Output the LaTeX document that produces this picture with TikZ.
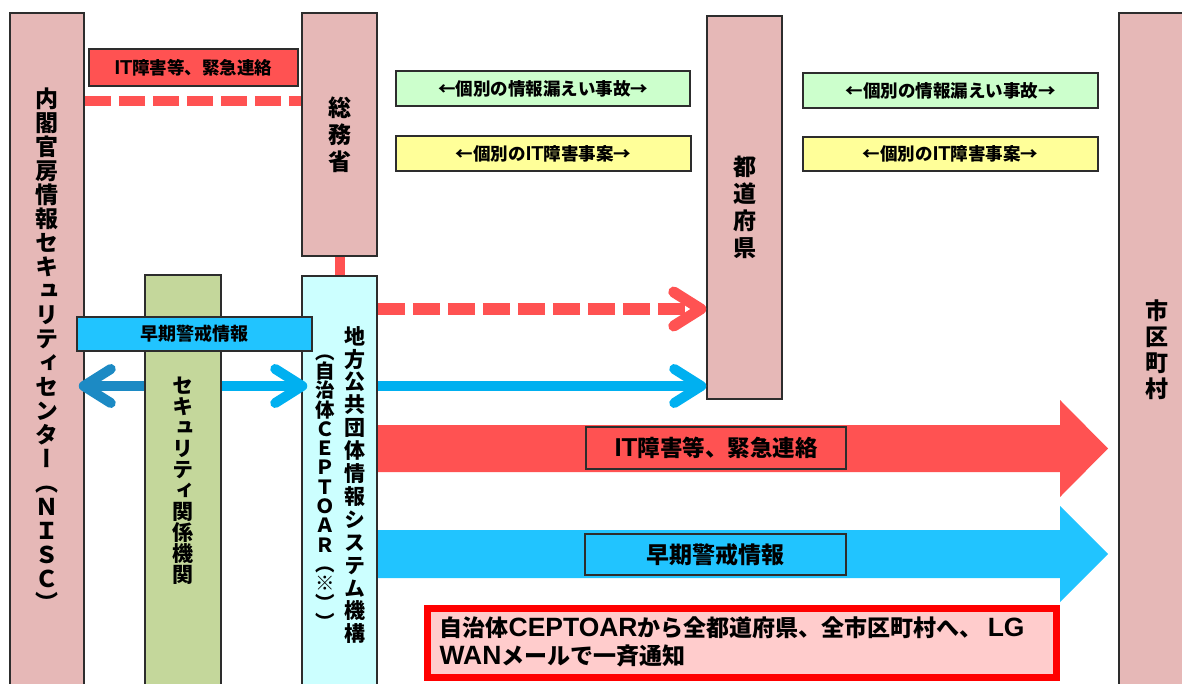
\documentclass[tikz,border=0pt]{standalone}
\usepackage{fontspec}
\setmainfont{Noto Sans CJK JP}
\newfontfamily\vjp{Noto Sans CJK JP}[RawFeature=+vert]
\newfontfamily\latfont{Liberation Sans}[Scale=1.15]
\usetikzlibrary{arrows.meta}
\definecolor{edge}{RGB}{45, 45, 45}
\definecolor{boxpink}{RGB}{230, 184, 183}
\definecolor{boxolive}{RGB}{196, 215, 155}
\definecolor{boxcyan}{RGB}{204, 255, 255}
\definecolor{alertred}{RGB}{255, 82, 82}
\definecolor{warnblue}{RGB}{33, 196, 255}
\definecolor{lineblue}{RGB}{0, 176, 240}
\definecolor{darkblue}{RGB}{28, 138, 196}
\definecolor{leakgreen}{RGB}{204, 255, 204}
\definecolor{caseyellow}{RGB}{255, 255, 153}
\definecolor{notepink}{RGB}{255, 204, 204}
\definecolor{notered}{RGB}{255, 0, 0}
\newcommand\en[1]{{\latfont #1}}
\newcommand\vertfont[2]{\vjp\bfseries\fontsize{#1}{#2}\selectfont}
\tikzset{
  orgbox/.style={draw=edge, line width=1.5pt, inner sep=0pt, align=center},
  tag/.style={draw=edge, line width=1.2pt, inner sep=0pt,
    font=\bfseries\fontsize{17.5}{20}\selectfont},
  flow/.style={line width=10pt, -{Straight Barb[length=27pt,width=34pt,round]}},
}
\begin{document}
\begin{tikzpicture}[x=1pt, y=-1pt]
      \useasboundingbox (0,0) rectangle (1182,684);
      % wide arrows towards the municipalities
      \fill[alertred] (377,425) -- (1060,425) -- (1060,400) -- (1108,448.5)
        -- (1060,497) -- (1060,472) -- (377,472) -- cycle;
      \fill[warnblue] (377,530) -- (1060,530) -- (1060,506) -- (1108,554)
        -- (1060,602) -- (1060,578) -- (377,578) -- cycle;
      % organisations
      \node[orgbox, fill=boxpink, minimum width=74pt, minimum height=674pt,
        font=\vertfont{23}{24}] (nisc) at (47,350)
        {内\\閣\\官\\房\\情\\報\\セ\\キ\\ュ\\リ\\テ\\ィ\\セ\\ン\\タ\\ー\\（\\Ｎ\\Ｉ\\Ｓ\\Ｃ\\）};
      \node[orgbox, fill=boxpink, minimum width=75pt, minimum height=243pt,
        font=\vertfont{23}{27}] (somu) at (339.5,134.5) {総\\務\\省};
      \node[orgbox, fill=boxpink, minimum width=75pt, minimum height=383pt,
        font=\vertfont{23}{27}] (todo) at (744.5,207.5) {都\\道\\府\\県};
      \node[orgbox, fill=boxpink, minimum width=75pt, minimum height=674pt,
        font=\vertfont{23}{26}] (shiku) at (1156.5,350) {市\\区\\町\\村};
      \node[orgbox, fill=boxolive, minimum width=76pt, minimum height=412pt,
        font=\vertfont{21}{21}] (sec) at (183,481)
        {セ\\キ\\ュ\\リ\\テ\\ィ\\関\\係\\機\\関};
      \node[orgbox, fill=boxcyan, minimum width=75pt, minimum height=411pt]
        (cept) at (339.5,481.5) {};
      \node[align=center, inner sep=0pt, font=\vertfont{21}{22.9}] (ceptname)
        at ([xshift=15.5pt, yshift=-3.5pt]cept.center)
        {地\\方\\公\\共\\団\\体\\情\\報\\シ\\ス\\テ\\ム\\機\\構};
      \node[align=center, inner sep=0pt, font=\vertfont{19.5}{19.3}] (ceptsub)
        at ([xshift=-14.5pt, yshift=-10.5pt]cept.center)
        {（\\自\\治\\体\\Ｃ\\Ｅ\\Ｐ\\Ｔ\\Ｏ\\Ａ\\Ｒ\\（\\※\\）\\）};
      % connectors
      \coordinate (ydash) at (0,101);
      \coordinate (yred) at (0,309);
      \coordinate (yblue) at (0,386);
      \draw[alertred, line width=10pt, dash pattern=on 26pt off 8pt]
        (nisc.east |- ydash) -- (somu.west |- ydash);
      \draw[alertred, line width=10pt] (somu.south) -- (cept.north);
      \draw[flow, alertred, line width=11pt, dash pattern=on 27pt off 8pt]
        (cept.east |- yred) -- (todo.west |- yred);
      \draw[flow, lineblue] (cept.east |- yblue) -- (todo.west |- yblue);
      \draw[flow, lineblue, shorten >=-6pt] (sec.east |- yblue) -- (cept.west |- yblue);
      \draw[flow, darkblue, shorten >=-6pt] (sec.west |- yblue) -- (nisc.east |- yblue);
      % labels
      \node[tag, fill=alertred, minimum width=209pt, minimum height=37pt]
        (toptag) at (193.5,67.5) {\en{IT}障害等、緊急連絡};
      \node[tag, fill=leakgreen, minimum width=294pt, minimum height=35pt]
        (leak1) at (543,88.5) {←個別の情報漏えい事故→};
      \node[tag, fill=caseyellow, minimum width=295pt, minimum height=35pt]
        (case1) at (543.5,153.5) {←個別の\en{IT}障害事案→};
      \node[tag, fill=leakgreen, minimum width=295pt, minimum height=35pt]
        (leak2) at (950.5,90.5) {←個別の情報漏えい事故→};
      \node[tag, fill=caseyellow, minimum width=295pt, minimum height=34pt]
        (case2) at (950.5,154) {←個別の\en{IT}障害事案→};
      \node[tag, fill=warnblue, minimum width=235pt, minimum height=34pt,
        font=\bfseries\fontsize{18}{20}\selectfont] (warntag) at (194.5,334) {早期警戒情報};
      \node[tag, fill=alertred, minimum width=260pt, minimum height=42pt,
        font=\bfseries\fontsize{22.5}{24}\selectfont] (redtag) at (716,448) {\en{IT}障害等、緊急連絡};
      \node[tag, fill=warnblue, minimum width=261pt, minimum height=41pt,
        font=\bfseries\fontsize{23}{24}\selectfont] (bluetag) at (715.5,554.5) {早期警戒情報};
      % note
      \node[draw=notered, line width=7pt, fill=notepink, inner sep=0pt,
        minimum width=629pt, minimum height=69pt] (note) at (742,643) {};
      \node[anchor=west, align=left, inner sep=0pt,
        font=\bfseries\fontsize{23}{28}\selectfont] (notetext)
        at ([xshift=15.5pt, yshift=1pt]note.west)
        {自治体\en{CEPTOAR}から全都道府県、全市区町村へ、 \en{LG}\\\en{WAN}メールで一斉通知};
\end{tikzpicture}
\end{document}
